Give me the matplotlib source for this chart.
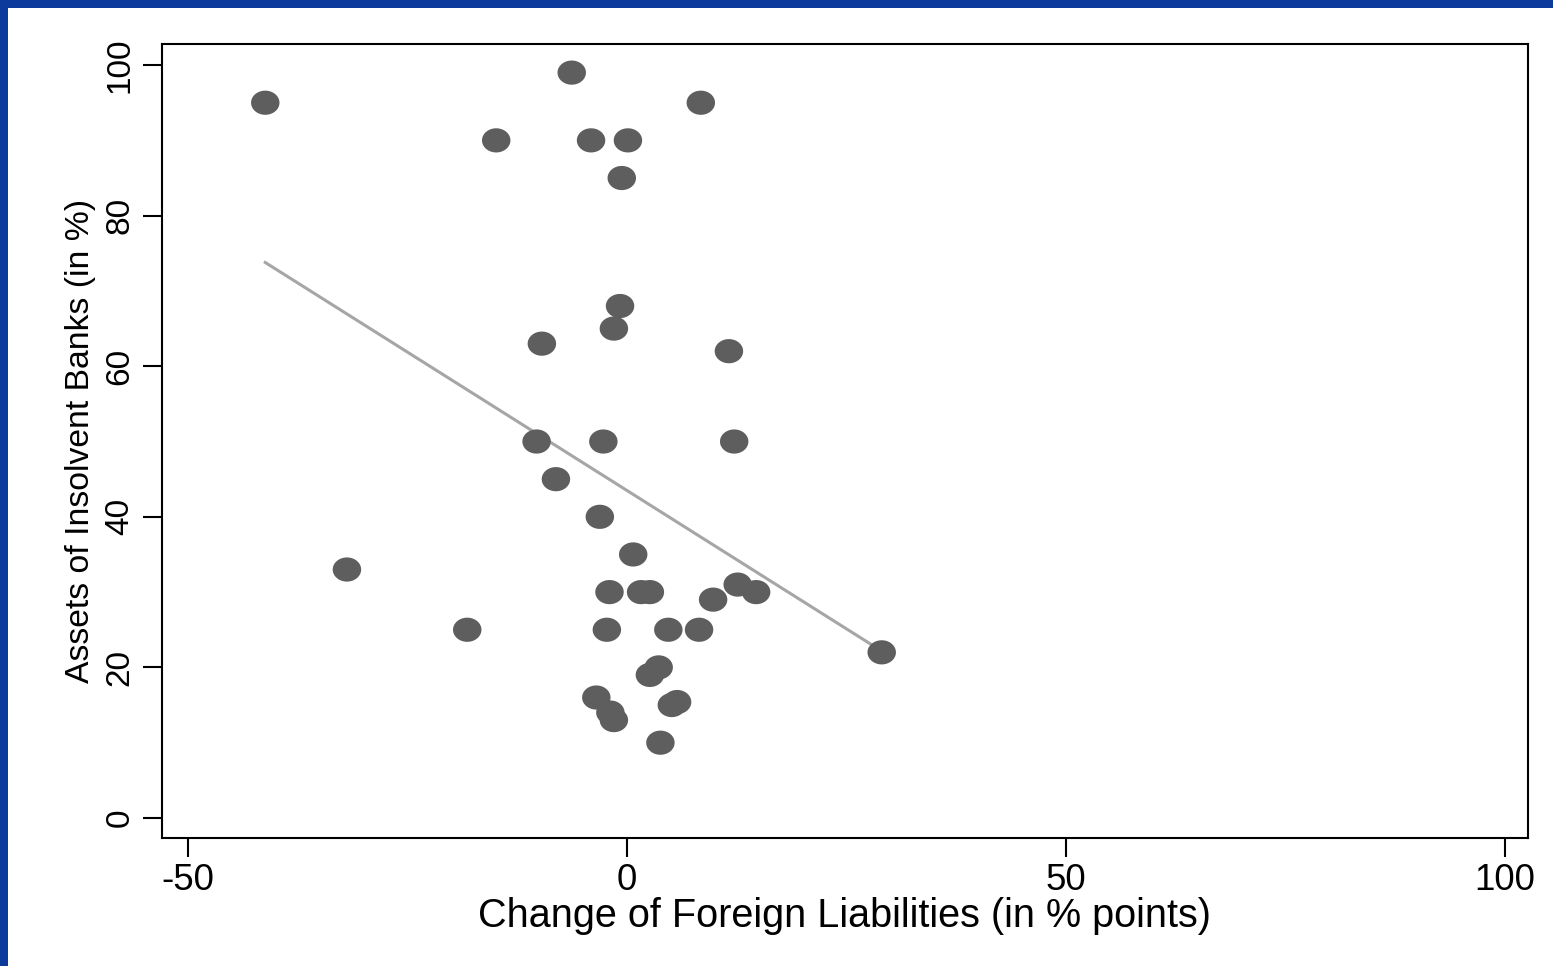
import numpy as np
import matplotlib
matplotlib.use("Agg")
import matplotlib.pyplot as plt
from matplotlib.path import Path
from matplotlib.patches import Rectangle

# change of foreign liabilities (x) vs assets of insolvent banks (y)
fl_change = [-41.2, -6.3, 8.4, -14.9, -4.1, 0.1, -0.6, -0.8, -1.5, -9.7,
             11.6, -10.3, -2.7, 12.2, -8.1, -3.1, 0.7, -31.9, -2.0, 1.6,
             2.6, 12.6, 14.7, 9.8, -18.2, -2.3, 4.7, 8.2, 29.0, 3.6,
             2.6, -3.5, 5.7, 5.1, -1.9, -1.5, 3.8]
insolvent = [95.0, 99.0, 95.0, 90.0, 90.0, 90.0, 85.0, 68.0, 65.0, 63.0,
             62.0, 50.0, 50.0, 50.0, 45.0, 40.0, 35.0, 33.0, 30.0, 30.0,
             30.0, 31.0, 30.0, 29.0, 25.0, 25.0, 25.0, 25.0, 22.0, 20.0,
             19.0, 16.0, 15.4, 15.0, 14.0, 13.0, 10.0]

xticks = [-50, 0, 50, 100]
yticks = [0, 20, 40, 60, 80, 100]

plt.rcParams['font.family'] = ['Liberation Sans', 'DejaVu Sans']
plt.rcParams['axes.unicode_minus'] = False

fig = plt.figure(figsize=(15.53, 9.66), dpi=100, facecolor='white')
# blue slide frame on the left and top
blue = '#0b3a9c'
fig.add_artist(Rectangle((0, 0), 8 / 1553, 1, transform=fig.transFigure,
                         facecolor=blue, edgecolor='none'))
fig.add_artist(Rectangle((0, 1 - 8 / 966), 1, 8 / 966, transform=fig.transFigure,
                         facecolor=blue, edgecolor='none'))

ax = fig.add_axes([162 / 1553, 1 - 838 / 966, (1528 - 162) / 1553, (838 - 44) / 966])

# stata-ish stretched circle marker
t = np.linspace(0, 2 * np.pi, 60)
ell = Path(np.column_stack([np.cos(t), 0.85 * np.sin(t)]), closed=True)

ax.scatter(fl_change, insolvent, marker=ell, s=420, color='#5e5e5e',
           edgecolors='none', zorder=3)

# linear fit over the data range
slope, icpt = np.polyfit(fl_change, insolvent, 1)
xs = np.array([min(fl_change), max(fl_change)])
ax.plot(xs, icpt + slope * xs, color='#a6a6a6', lw=2.2, zorder=2)

ax.set_xlim(-52.96, 102.6)
ax.set_ylim(-2.66, 102.8)
ax.set_xticks(xticks)
ax.set_yticks(yticks)
ax.tick_params(length=14, width=1.5, pad=5)
ax.tick_params(axis='x', labelsize=26.5, pad=4)
ax.tick_params(axis='y', labelsize=24)
for lab in ax.get_yticklabels():
    lab.set_rotation(90)
    lab.set_va('center')
for s in ax.spines.values():
    s.set_linewidth(1.5)

ax.set_xlabel('Change of Foreign Liabilities (in % points)', fontsize=28.5, labelpad=-1)
ax.set_ylabel('Assets of Insolvent Banks (in %)', fontsize=24.3, labelpad=6)

fig.savefig('out.png', dpi=100)
